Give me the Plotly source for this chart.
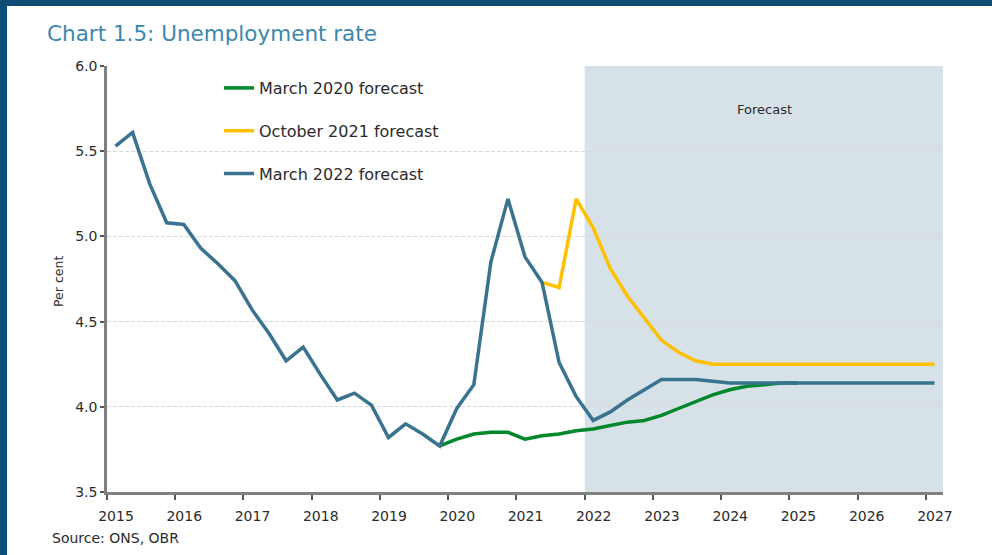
import plotly.graph_objects as go

# ---------------- data ----------------
year_ticks = list(range(2015, 2028))
y_ticks = [3.5, 4.0, 4.5, 5.0, 5.5, 6.0]

series_names = ["March 2020 forecast", "October 2021 forecast", "March 2022 forecast"]
series_colors = ["#00882B", "#FFC000", "#3A7390"]

march2020_start = "2019Q4"
march2020 = [3.77,
             3.81, 3.84, 3.85, 3.85,
             3.81, 3.83, 3.84, 3.86,
             3.87, 3.89, 3.91, 3.92,
             3.95, 3.99, 4.03, 4.07,
             4.10, 4.12, 4.13, 4.14,
             4.14]

oct2021_start = "2021Q2"
oct2021 = [4.73, 4.70, 5.22,
           5.05, 4.81, 4.65, 4.52,
           4.39, 4.32, 4.27, 4.25,
           4.25, 4.25, 4.25, 4.25,
           4.25, 4.25, 4.25, 4.25,
           4.25, 4.25, 4.25, 4.25,
           4.25]

march2022_start = "2015Q1"
march2022 = [5.53, 5.61, 5.31, 5.08,
             5.07, 4.93, 4.84, 4.74,
             4.57, 4.43, 4.27, 4.35,
             4.19, 4.04, 4.08, 4.01,
             3.82, 3.90, 3.84, 3.77,
             3.99, 4.13, 4.85, 5.22,
             4.88, 4.73, 4.26, 4.06,
             3.92, 3.97, 4.04, 4.10,
             4.16, 4.16, 4.16, 4.15,
             4.14, 4.14, 4.14, 4.14,
             4.14, 4.14, 4.14, 4.14,
             4.14, 4.14, 4.14, 4.14,
             4.14]

forecast_start = 2022.0
x_range = [2015.0, 2027.25]
y_range = [3.5, 6.0]


def quarter_positions(start, n):
    y, q = int(start[:4]), int(start[-1])
    out = []
    for _ in range(n):
        out.append(y + (q - 0.5) / 4.0)
        q += 1
        if q > 4:
            q = 1
            y += 1
    return out


# ---------------- layout helpers (pixel -> paper) ----------------
W, H = 992, 555
ML, MR, MT, MB = 107, 49, 66, 63
PW, PH = W - ML - MR, H - MT - MB


def px(xp):
    return (xp - ML) / PW


def py(yp):
    return (H - MB - yp) / PH


FONT = "DejaVu Sans"
TXT = "#2b2b2b"
AXIS = "#808080"

fig = go.Figure()

all_series = [(march2020_start, march2020), (oct2021_start, oct2021), (march2022_start, march2022)]
for i, (start, vals) in enumerate(all_series):
    fig.add_trace(go.Scatter(
        x=quarter_positions(start, len(vals)),
        y=vals,
        mode="lines",
        name=series_names[i],
        legendgroup=f"g{i}",
        line=dict(color=series_colors[i], width=3.5),
        hoverinfo="x+y+name",
    ))

# forecast shading
fig.add_shape(type="rect", xref="x", yref="y",
              x0=forecast_start, x1=x_range[1], y0=y_range[0], y1=y_range[1],
              fillcolor="#D7E1E8", line=dict(width=0), layer="below")

# frame bands (top and left)
BAND = "#0F4D76"
fig.add_shape(type="rect", xref="paper", yref="paper",
              x0=px(0), x1=px(W), y0=py(6), y1=py(0),
              fillcolor=BAND, line=dict(width=0), layer="above")
fig.add_shape(type="rect", xref="paper", yref="paper",
              x0=px(0), x1=px(7), y0=py(H), y1=py(0),
              fillcolor=BAND, line=dict(width=0), layer="above")

annotations = [
    dict(text="Chart 1.5: Unemployment rate", x=px(45), y=py(33), xref="paper", yref="paper",
         xanchor="left", yanchor="middle", showarrow=False,
         font=dict(family=FONT, size=21.5, color="#3C87AE")),
    dict(text="Source: ONS, OBR", x=px(50), y=py(538), xref="paper", yref="paper",
         xanchor="left", yanchor="middle", showarrow=False,
         font=dict(family=FONT, size=14, color=TXT)),
    dict(text="Per cent", x=px(58), y=py(282), xref="paper", yref="paper",
         xanchor="center", yanchor="middle", showarrow=False, textangle=-90,
         font=dict(family=FONT, size=12.5, color=TXT)),
    dict(text="Forecast", x=px(764), y=py(109), xref="paper", yref="paper",
         xanchor="center", yanchor="middle", showarrow=False,
         font=dict(family=FONT, size=13, color=TXT)),
]

fig.update_layout(
    width=W, height=H,
    margin=dict(l=ML, r=MR, t=MT, b=MB, pad=0),
    paper_bgcolor="white",
    plot_bgcolor="white",
    font=dict(family=FONT, size=14, color=TXT),
    showlegend=True,
    legend=dict(
        x=px(219), y=py(71), xanchor="left", yanchor="top",
        xref="paper", yref="paper",
        bgcolor="rgba(0,0,0,0)",
        font=dict(family=FONT, size=16, color=TXT),
        traceorder="grouped", tracegroupgap=19,
        itemwidth=30,
    ),
    annotations=annotations,
    hovermode="closest",
)

fig.update_xaxes(
    range=x_range, tickmode="array", tickvals=year_ticks,
    ticktext=[str(y) for y in year_ticks],
    showline=True, linecolor=AXIS, linewidth=2.5,
    ticks="outside", ticklen=5, tickwidth=2, tickcolor="#555555",
    ticklabelshift=9, ticklabelstandoff=4,
    showgrid=False, zeroline=False,
    tickfont=dict(family=FONT, size=14, color=TXT),
)
fig.update_yaxes(
    range=y_range, tickmode="array", tickvals=y_ticks,
    tickformat=".1f",
    showline=True, linecolor=AXIS, linewidth=2.5,
    ticks="outside", ticklen=4, tickwidth=2, tickcolor="#555555",
    showgrid=True, gridcolor="#D9D9D9", gridwidth=1, griddash="4px,2px",
    zeroline=False,
    tickfont=dict(family=FONT, size=14, color=TXT),
)

fig.write_html("out.html")
